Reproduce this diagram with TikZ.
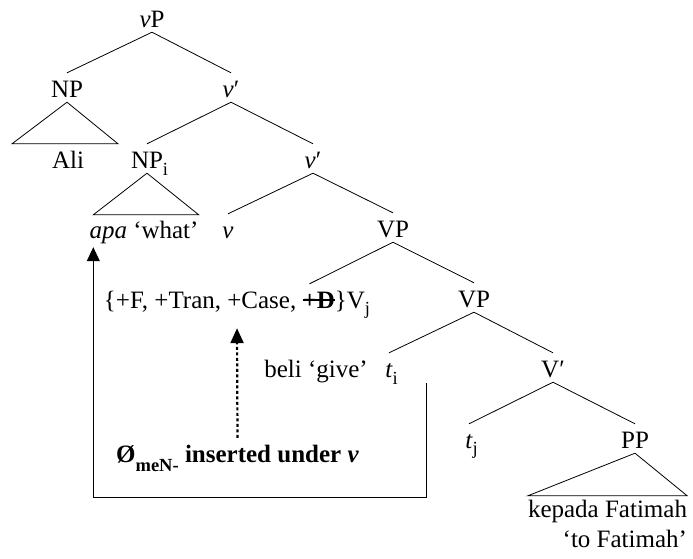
\documentclass[tikz,border=0pt]{standalone}
\usepackage{fontspec}
\setmainfont{Liberation Serif}
\newsavebox\mystrikebox
\newcommand\mystrike[1]{\sbox\mystrikebox{#1}\rlap{\rule[0.3em]{\wd\mystrikebox}{1.4pt}}\usebox\mystrikebox}
\newcommand\mysub[2][-7pt]{\raisebox{#1}{\fontsize{18.5}{18.5}\selectfont #2}}
\usetikzlibrary{calc,arrows.meta}
\begin{document}
\begin{tikzpicture}[x=1pt,y=-1pt,
  every node/.style={font=\fontsize{25}{30}\selectfont},
  lab/.style={inner sep=0pt, anchor=base, text height=24pt, text depth=5pt},
  edge/.style={line width=0.8pt},
  bigtip/.style={-{Triangle[width=13pt,length=14pt]}},
  dotarrow/.style={line width=2.2pt, dash pattern=on 3pt off 2.5pt, -{Triangle[width=13pt,length=15pt]}}]
\useasboundingbox (0,0) rectangle (693,558);
% labels
\node[lab] (vP)   at (152,27)  {\textit{v}P};
\node[lab] (NP)   at (67,97)   {NP};
\node[lab] (vb1)  at (231,97)  {\textit{v}′};
\node[lab] (Ali)  at (68,168)  {Ali};
\node[lab] (NPi)  at (147,168) {NP\rlap{\mysub{i}}};
\node[lab] (vb2)  at (313,168) {\textit{v}′};
\node[lab] (apa)  at (144,238) {\textit{apa} ‘what’};
\node[lab] (v)    at (228,238) {\textit{v}};
\node[lab] (VP1)  at (393,237) {VP};
\node[lab] (feat) at (237,308) {\{+F, +Tran, +Case, \mystrike{\textbf{+D}}\}V\mysub[-6pt]{j}};
\node[lab] (VP2)  at (474,307) {VP};
\node[lab] (beli) at (316,377) {beli ‘give’};
\node[lab] (ti)   at (389,377) {\textit{t}\rlap{\mysub{i}}};
\node[lab] (Vb)   at (553,377) {V′};
\node[lab] (tj)   at (469,448) {\textit{t}\rlap{\mysub[-6pt]{j}}};
\node[lab] (PP)   at (635,448) {PP};
\node[lab] (kep)  at (607.5,517) {kepada Fatimah};
\node[lab, anchor=base east] (tof) at (kep.base east |- 0,547) {‘to Fatimah’};
\node[lab, font=\fontsize{25}{30}\selectfont\bfseries] (ins) at (237.5,462)
  {Ø\mysub[-9pt]{\bfseries meN-} inserted under \textit{v}};
% tree edges
\draw[edge] (vP.south) -- (NP.north);
\draw[edge] (vP.south) -- (vb1.north);
\draw[edge] (vb1.south) -- (NPi.north);
\draw[edge] (vb1.south) -- (vb2.north);
\draw[edge] (vb2.south) -- (v.north);
\draw[edge] (vb2.south) -- (VP1.north);
\draw[edge] (VP1.south) -- ($(feat.north west)!0.772!(feat.north east)$);
\draw[edge] (VP1.south) -- (VP2.north);
\draw[edge] (VP2.south) -- (ti.north);
\draw[edge] (VP2.south) -- (Vb.north);
\draw[edge] (Vb.south) -- (tj.north);
\draw[edge] (Vb.south) -- (PP.north);
% triangles
\draw[edge] (NP.south) -- ($(Ali.north)+(-56,0)$) -- ($(Ali.north)+(50,0)$) -- cycle;
\draw[edge] (NPi.south) -- ($(apa.north west)+(4,1)$) -- ($(apa.north east)+(0,1)$) -- cycle;
\draw[edge] (PP.south) -- ($(kep.north west)+(0,3)$) -- ($(kep.north east)+(0,3)$) -- cycle;
% movement arrows
\draw[edge, bigtip] ($(ti.south)+(37,1)$) -- ++(0,114) -| ($(apa.south west)+(4,4)$);
\draw[dotarrow] (ins.north) -- ($(feat.south)+(0,15)$);
\end{tikzpicture}
\end{document}
